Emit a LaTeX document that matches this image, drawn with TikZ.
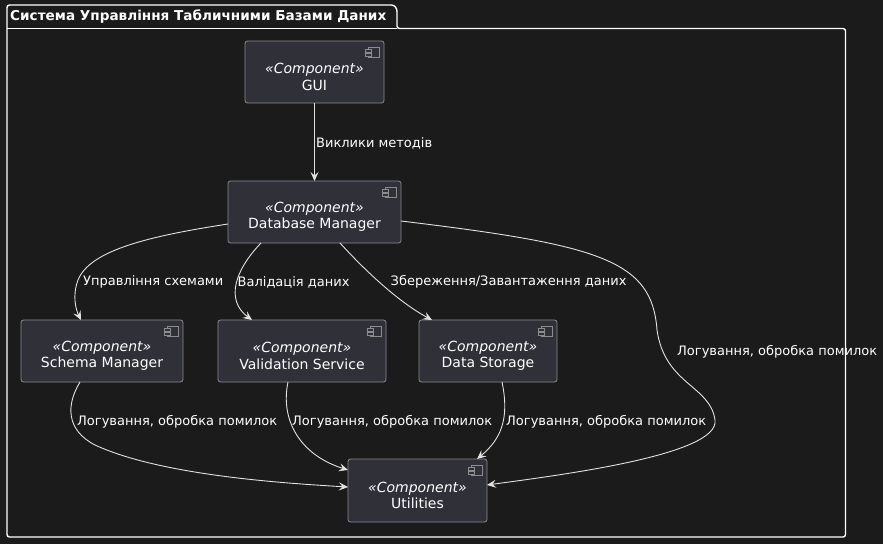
\documentclass[tikz,border=0pt]{standalone}
\usepackage{fontspec}
\setmainfont{DejaVu Sans}
\usetikzlibrary{arrows.meta}
\definecolor{bg}{HTML}{1B1B1B}
\definecolor{boxfill}{HTML}{2F3038}
\definecolor{boxdraw}{HTML}{8C8C8C}
\definecolor{edgecol}{HTML}{E2E2E2}
\tikzset{
  comp/.style={draw=boxdraw, fill=boxfill, line width=0.8pt, rounded corners=2.5pt, inner sep=0pt, outer sep=0pt},
  comptext/.style={text=white, align=center, inner sep=0pt, font=\fontsize{14}{16.5}\selectfont},
  compicon/.style={draw=boxdraw, fill=boxfill, line width=0.7pt},
  lbl/.style={text=white, anchor=west, inner sep=0pt, font=\fontsize{13}{15}\selectfont},
  conn/.style={draw=edgecol, line width=0.9pt, -{Stealth[length=9pt,width=8pt,inset=3.5pt]}},
  pkg/.style={draw=white, line width=1.4pt}
}
\newcommand{\compnode}[6]{%
  \node[comp, minimum width={(#4)-(#2)}, minimum height={(#5)-(#3)}] (#1) at ({((#2)+(#4))/2},{((#3)+(#5))/2}) {};
  \node[comptext] (#1-t) at ([yshift=-5pt]#1.center) {\textit{«Component»}\\#6};
  \begin{scope}[shift={(#1.north east)}]
    \draw[compicon] (-16,6) rectangle (-5,16);
    \draw[compicon] (-19,8.5) rectangle (-13,11);
    \draw[compicon] (-19,12.5) rectangle (-13,15);
  \end{scope}
}
\begin{document}
\begin{tikzpicture}[x=1pt,y=-1pt]
\fill[bg] (0,0) rectangle (883,544);
\useasboundingbox (0,0) rectangle (883,544);
% package
\draw[pkg, rounded corners=2.5pt] (7,537) -- (7,5) -- (394,5) -- (397,9) -- (397,28.5) -- (845.5,28.5) -- (845.5,537) -- cycle;
\draw[pkg] (7,28.5) -- (397,28.5);
\node[text=white, anchor=west, inner sep=0pt, font=\bfseries\fontsize{13.6}{16}\selectfont] (pkgtitle) at (10,17) {Система Управління Табличними Базами Даних};
% components
\compnode{gui}{245}{41}{384}{103}{GUI}
\compnode{dm}{228}{181}{401}{243}{Database Manager}
\compnode{schema}{21}{320}{183}{382}{Schema Manager}
\compnode{valid}{218}{320}{386}{382}{Validation Service}
\compnode{ds}{419}{320}{557}{382}{Data Storage}
\compnode{util}{348}{459}{487}{522}{Utilities}
% connectors
\draw[conn] (gui.south) -- (dm.north);
\draw[conn] ([yshift=-12pt]dm.west) .. controls (150,236) and (90,250) .. (78,280) .. controls (72,296) and (76,310) .. ([xshift=-21pt]schema.north);
\draw[conn] ([xshift=-53.5pt]dm.south) .. controls (235,270) and (225,300) .. ([xshift=-50pt]valid.north);
\draw[conn] ([xshift=25.5pt]dm.south) .. controls (360,265) and (395,300) .. ([xshift=-56pt]ds.north);
\draw[conn] ([yshift=-9pt]dm.east) .. controls (600,245) and (652,260) .. (657,330) .. controls (665,385) and (710,385) .. (715,420) .. controls (720,455) and (560,475) .. ([yshift=5.5pt]util.east);
\draw[conn] ([xshift=-22pt]schema.south) .. controls (66,405) and (66,430) .. (95,445) .. controls (160,475) and (280,483) .. ([yshift=3.5pt]util.west);
\draw[conn] ([xshift=-14pt]valid.south) .. controls (280,420) and (300,455) .. ([yshift=20.5pt]util.west);
\draw[conn] ([xshift=14pt]ds.south) .. controls (510,420) and (500,440) .. ([xshift=59.5pt]util.north);
% labels
\node[lbl] (l1) at (316,143) {Виклики методів};
\node[lbl] (l2) at (83,282) {Управління схемами};
\node[lbl] (l3) at (237.5,282) {Валідація даних};
\node[lbl] (l4) at (390.5,282) {Збереження/Завантаження даних};
\node[lbl] (l5) at (677,352) {Логування, обробка помилок};
\node[lbl] (l6) at (77,422) {Логування, обробка помилок};
\node[lbl] (l7) at (292,422) {Логування, обробка помилок};
\node[lbl] (l8) at (506,422) {Логування, обробка помилок};
\end{tikzpicture}
\end{document}
